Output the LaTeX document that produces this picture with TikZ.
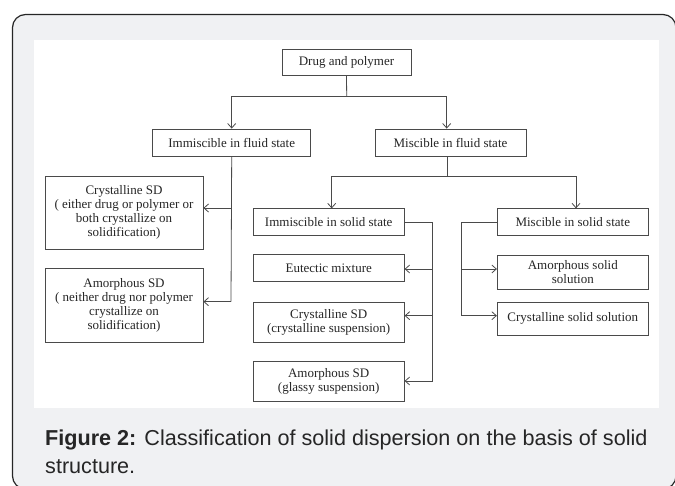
\documentclass[tikz,border=0pt]{standalone}
\usepackage{fontspec}
\setmainfont{Liberation Serif}
\newfontfamily\capfont{Liberation Sans}
\usetikzlibrary{arrows.meta}
\definecolor{framebg}{HTML}{F0F1F3}
\definecolor{lineclr}{HTML}{4A4A4A}
\begin{document}
\begin{tikzpicture}[x=1pt,y=-1pt,
  box/.style={draw=lineclr, line width=0.8pt, fill=white, align=center, inner sep=2pt,
    font=\fontsize{13}{14}\selectfont, text=black!85},
  conn/.style={draw=lineclr, line width=0.8pt},
  arr/.style={conn, -{Straight Barb[length=4.5pt,width=8pt]}}]
\useasboundingbox (0,0) rectangle (675,486);
% frame
\draw[fill=framebg, draw=black!85, line width=1.2pt, rounded corners=13pt] (12.5,14.5) rectangle (676,489);
\fill[white] (34,40) rectangle (659,408);
% nodes
\node[box, minimum width=129pt, minimum height=26.5pt] (drug) at (346.5,62.5) {Drug and polymer};
\node[box, minimum width=158pt, minimum height=27pt] (imf) at (231.7,142.5) {Immiscible in fluid state};
\node[box, minimum width=151pt, minimum height=27pt] (mf) at (450.5,142.5) {Miscible in fluid state};
\node[box, minimum width=158pt, minimum height=73pt] (csda) at (124,212.5) {Crystalline SD\\( either drug or polymer or\\both crystallize on\\solidification)};
\node[box, minimum width=158pt, minimum height=74pt] (asda) at (124,305) {Amorphous SD\\( neither drug nor polymer\\crystallize on\\solidification)};
\node[box, minimum width=151pt, minimum height=27pt] (iss) at (328.7,222.3) {Immiscible in solid state};
\node[box, minimum width=151pt, minimum height=27pt] (eut) at (328.7,268.3) {Eutectic mixture};
\node[box, minimum width=151pt, minimum height=40pt] (csdb) at (328.7,322.3) {Crystalline SD\\(crystalline suspension)};
\node[box, minimum width=151pt, minimum height=40pt] (asdb) at (328.7,381.7) {Amorphous SD\\(glassy suspension)};
\node[box, minimum width=151pt, minimum height=27pt] (mss) at (572.8,222.3) {Miscible in solid state};
\node[box, minimum width=151pt, minimum height=34pt] (ass) at (572.8,272) {Amorphous solid\\solution};
\node[box, minimum width=151pt, minimum height=33pt] (css) at (572.8,318.7) {Crystalline solid solution};
% junctions
\coordinate (j1) at (346.7,96);
\coordinate (j2) at (447,176);
\coordinate (ja) at (231,208);
\coordinate (jb) at (231,301.7);
\coordinate (ka) at (432.7,269);
\coordinate (kb) at (432.7,315.7);
\coordinate (kc) at (432.7,381);
\coordinate (ma) at (461.7,269);
\coordinate (mb) at (461.7,315.7);
% connectors
\draw[conn] (drug.south) -- (j1);
\draw[arr] (j1) -| (imf.north);
\draw[arr] (j1) -| ([xshift=-3.8pt]mf.north);
\draw[conn] ([xshift=-3.5pt]mf.south) -- (j2);
\draw[arr] (j2) -| ([xshift=3pt]iss.north);
\draw[arr] (j2) -| ([xshift=3.2pt]mss.north);
\draw[conn] (imf.south) -- (jb);
\draw[arr] (ja) -- (ja -| csda.east);
\draw[arr] (jb) -- (jb -| asda.east);
\draw[conn] (iss.east) -| (kc);
\draw[arr] (ka) -- (ka -| eut.east);
\draw[arr] (kb) -- (kb -| csdb.east);
\draw[arr] (kc) -- (kc -| asdb.east);
\draw[conn] (mss.west) -| (mb);
\draw[arr] (ma) -- (ma -| ass.west);
\draw[arr] (mb) -- (mb -| css.west);
% caption
\node[anchor=base west, inner sep=0pt, font=\capfont\fontsize{21.6}{27.6}\selectfont, text=black!85, align=left] (cap) at (45,473.3)
  {\textbf{Figure 2:} Classification of solid dispersion on the basis of solid\\structure.};
\end{tikzpicture}
\end{document}
